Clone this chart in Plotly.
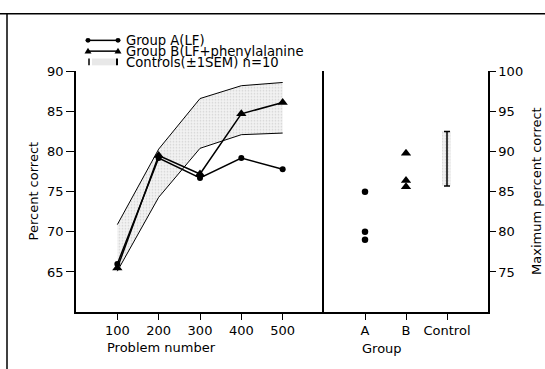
import plotly.graph_objects as go

# ---- data ----
problem_number = [100, 200, 300, 400, 500]
group_a = [66.0, 79.2, 76.7, 79.2, 77.8]
group_b = [65.5, 79.5, 77.2, 84.7, 86.1]
control_upper = [70.9, 80.3, 86.6, 88.2, 88.6]
control_lower = [65.1, 74.3, 80.4, 82.1, 82.3]

group_cats = ["A", "B", "Control"]
max_a = [85.0, 80.0, 79.0]
max_b = [89.8, 86.4, 85.6]
control_max_low = 85.7
control_max_high = 92.5

W, H = 545, 369
FONT = "DejaVu Sans"


def px(x):
    return x / W


def py(y):
    return 1 - y / H


fig = go.Figure()

# control band (stippled)
fig.add_trace(go.Scatter(x=problem_number, y=control_upper, mode="lines",
                         line=dict(color="black", width=1), xaxis="x", yaxis="y",
                         showlegend=False))
fig.add_trace(go.Scatter(x=problem_number, y=control_lower, mode="lines",
                         line=dict(color="black", width=1), fill="tonexty",
                         fillcolor="rgba(235,235,235,1)",
                         fillpattern=dict(shape=".", fgcolor="#b4b4b4", bgcolor="#f2f2f2",
                                          size=3, solidity=0.25),
                         xaxis="x", yaxis="y", showlegend=False))
# group lines
fig.add_trace(go.Scatter(x=problem_number, y=group_a, mode="lines+markers",
                         line=dict(color="black", width=1.5),
                         marker=dict(symbol="circle", size=6, color="black"),
                         xaxis="x", yaxis="y", showlegend=False))
fig.add_trace(go.Scatter(x=problem_number, y=group_b, mode="lines+markers",
                         line=dict(color="black", width=1.5),
                         marker=dict(symbol="triangle-up", size=9, color="black"),
                         xaxis="x", yaxis="y", showlegend=False))

# right panel
fig.add_trace(go.Scatter(x=[group_cats[0]] * len(max_a), y=max_a, mode="markers",
                         marker=dict(symbol="circle", size=6.5, color="black"),
                         xaxis="x2", yaxis="y2", showlegend=False))
fig.add_trace(go.Scatter(x=[group_cats[1]] * len(max_b), y=max_b, mode="markers",
                         marker=dict(symbol="triangle-up", size=9, color="black"),
                         xaxis="x2", yaxis="y2", showlegend=False))
fig.add_trace(go.Bar(x=[group_cats[2]], y=[control_max_high - control_max_low],
                     base=[control_max_low], width=0.22, offset=-0.12,
                     marker=dict(color="#f2f2f2", line=dict(width=0),
                                 pattern=dict(shape=".", fgcolor="#b4b4b4", bgcolor="#f2f2f2",
                                              size=3, solidity=0.25)),
                     xaxis="x2", yaxis="y2", showlegend=False))
mid = (control_max_high + control_max_low) / 2
half = (control_max_high - control_max_low) / 2
fig.add_trace(go.Scatter(x=[group_cats[2]], y=[mid], mode="markers",
                         marker=dict(size=1, color="rgba(0,0,0,0)"),
                         error_y=dict(type="constant", value=half, color="black",
                                      thickness=1.5, width=3),
                         xaxis="x2", yaxis="y2", showlegend=False))

tickfont = dict(family=FONT, size=13, color="black")

# legend shapes / annotations
shapes = []
annotations = []
# outer frame
shapes.append(dict(type="line", xref="paper", yref="paper", x0=0, x1=1, y0=py(7), y1=py(7),
                   line=dict(color="black", width=1.5)))
shapes.append(dict(type="line", xref="paper", yref="paper", x0=px(7), x1=px(7), y0=py(7), y1=0,
                   line=dict(color="black", width=1.5)))

rows = [34, 45, 56]
lx0, lx1 = 88, 118
# row 1 line with circles
shapes.append(dict(type="line", xref="paper", yref="paper", x0=px(lx0), x1=px(lx1),
                   y0=py(rows[0]), y1=py(rows[0]), line=dict(color="black", width=1.5)))
for cx in (lx0, lx1):
    shapes.append(dict(type="circle", xref="paper", yref="paper", x0=px(cx - 2.5), x1=px(cx + 2.5),
                       y0=py(rows[0] + 2.5), y1=py(rows[0] - 2.5), fillcolor="black",
                       line=dict(color="black", width=0)))
# row 2 line with triangles
shapes.append(dict(type="line", xref="paper", yref="paper", x0=px(lx0), x1=px(lx1),
                   y0=py(rows[1]), y1=py(rows[1]), line=dict(color="black", width=1.5)))
for cx in (lx0, lx1):
    path = "M {} {} L {} {} L {} {} Z".format(px(cx - 3.5), py(rows[1] + 2.5), px(cx + 3.5),
                                             py(rows[1] + 2.5), px(cx), py(rows[1] - 3.5))
    shapes.append(dict(type="path", xref="paper", yref="paper", path=path, fillcolor="black",
                       line=dict(color="black", width=0)))
# row 3 stippled sample
shapes.append(dict(type="rect", xref="paper", yref="paper", x0=px(92), x1=px(117),
                   y0=py(rows[2] + 3.5), y1=py(rows[2] - 3.5), fillcolor="#e8e8e8",
                   line=dict(width=0)))
shapes.append(dict(type="line", xref="paper", yref="paper", x0=px(89), x1=px(89),
                   y0=py(rows[2] + 3.5), y1=py(rows[2] - 3.5), line=dict(color="black", width=1.5)))
shapes.append(dict(type="line", xref="paper", yref="paper", x0=px(117), x1=px(117),
                   y0=py(rows[2] + 3.5), y1=py(rows[2] - 3.5), line=dict(color="black", width=2)))

legend_texts = ["Group A(LF)", "Group B(LF+phenylalanine", "Controls(±1SEM) n=10"]
for t, r in zip(legend_texts, rows):
    annotations.append(dict(text=t, xref="paper", yref="paper", x=px(124), y=py(r + 0.5),
                            xanchor="left", yanchor="middle", showarrow=False,
                            font=dict(family=FONT, size=13.2, color="black")))

# axis titles
annotations.append(dict(text="Problem number", xref="paper", yref="paper", x=px(161.5), y=py(347),
                        xanchor="center", yanchor="middle", showarrow=False, font=tickfont))
annotations.append(dict(text="Group", xref="paper", yref="paper", x=px(381.5), y=py(348),
                        xanchor="center", yanchor="middle", showarrow=False, font=tickfont))
annotations.append(dict(text="Percent correct", xref="paper", yref="paper", x=px(33), y=py(188),
                        xanchor="center", yanchor="middle", textangle=-90, showarrow=False,
                        font=tickfont))
annotations.append(dict(text="Maximum percent correct", xref="paper", yref="paper", x=px(536.5),
                        y=py(188), xanchor="center", yanchor="middle", textangle=-90,
                        showarrow=False, font=tickfont))

ydom = [py(311), py(65.5)]
axcommon = dict(showgrid=False, zeroline=False, showline=True, linecolor="black", linewidth=1.5,
                ticks="outside", tickcolor="black", tickwidth=1.2, tickfont=tickfont)

fig.update_layout(
    width=W, height=H, margin=dict(l=0, r=0, t=0, b=0),
    paper_bgcolor="white", plot_bgcolor="white",
    showlegend=False, bargap=0,
    font=dict(family=FONT, color="black"),
    xaxis=dict(domain=[px(76), px(324)], range=[0, 600], tickvals=problem_number,
               ticklen=6, anchor="y", **axcommon),
    yaxis=dict(domain=ydom, range=[60, 90], tickvals=[65, 70, 75, 80, 85, 90], ticklen=8,
               anchor="x", **axcommon),
    xaxis2=dict(domain=[px(324), px(488)], range=[-1, 3], type="category",
                categoryorder="array", categoryarray=group_cats, ticklen=6, anchor="y2",
                **axcommon),
    yaxis2=dict(domain=ydom, range=[70, 100], tickvals=[75, 80, 85, 90, 95, 100], ticklen=6,
                side="right", mirror=True, anchor="x2", **axcommon),
    shapes=shapes, annotations=annotations,
)

fig.write_html("out.html", config={"displayModeBar": False},
               post_script="document.body.style.margin='0';document.body.style.overflow='hidden';")
